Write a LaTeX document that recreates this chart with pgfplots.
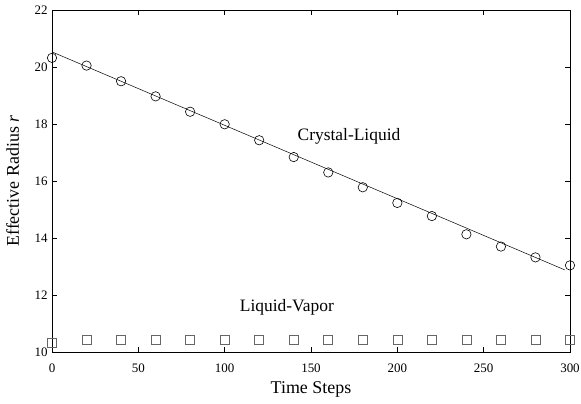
\documentclass[border=0pt]{standalone}
\usepackage{pgfplots}
\pgfplotsset{compat=1.18}
\usepackage{fontspec}
\setmainfont{Liberation Serif}
\begin{document}
\begin{tikzpicture}[x=1bp,y=1bp]
\useasboundingbox (-52bp,-52bp) rectangle (529bp,352bp);
\begin{axis}[
  at={(0,0)}, anchor=south west,
  scale only axis, width=518bp, height=342bp,
  xmin=0, xmax=300, ymin=10, ymax=22,
  xtick={0,50,...,300}, ytick={10,12,...,22},
  tick align=inside, major tick length=5bp,
  tick style={black, line width=0.6pt},
  axis line style={line width=0.8pt},
  /pgf/number format/assume math mode=true,
  tick label style={font=\fontsize{13}{15}\selectfont},
  xticklabel style={yshift=-8bp},
  yticklabel style={xshift=-1bp},
  label style={font=\fontsize{18}{20}\selectfont},
  xlabel={Time Steps}, ylabel={Effective Radius \textit{r}},
  xlabel style={at={(axis description cs:0.5,-0.12)}, anchor=base},
  ylabel style={at={(axis description cs:-0.0637,0.5)}, anchor=base},
  clip=false,
]
\addplot[black, line width=0.5pt] coordinates {(0,20.53) (297,12.88)};
\addplot[only marks, mark=o, mark size=4.7bp, mark options={line width=0.6pt, fill=white}] coordinates {
(0,20.32) (20,20.05) (40,19.5) (60,18.97) (80,18.43) (100,17.99) (120,17.43) (140,16.84)
(160,16.3) (180,15.78) (200,15.23) (220,14.77) (240,14.13) (260,13.7) (280,13.32) (300,13.04)};
\addplot[only marks, mark=square, mark size=4.5bp, mark options={line width=0.6pt, draw=black!60, fill=white}] coordinates {
(0,10.32) (20,10.42) (40,10.42) (60,10.42) (80,10.42) (100,10.42) (120,10.42) (140,10.42)
(160,10.42) (180,10.42) (200,10.42) (220,10.42) (240,10.42) (260,10.42) (280,10.42) (300,10.42)};
\node[font=\fontsize{17.5}{20}\selectfont] at (axis cs:172,17.58) {Crystal-Liquid};
\node[font=\fontsize{17.5}{20}\selectfont] at (axis cs:136,11.58) {Liquid-Vapor};
\end{axis}
\end{tikzpicture}
\end{document}
